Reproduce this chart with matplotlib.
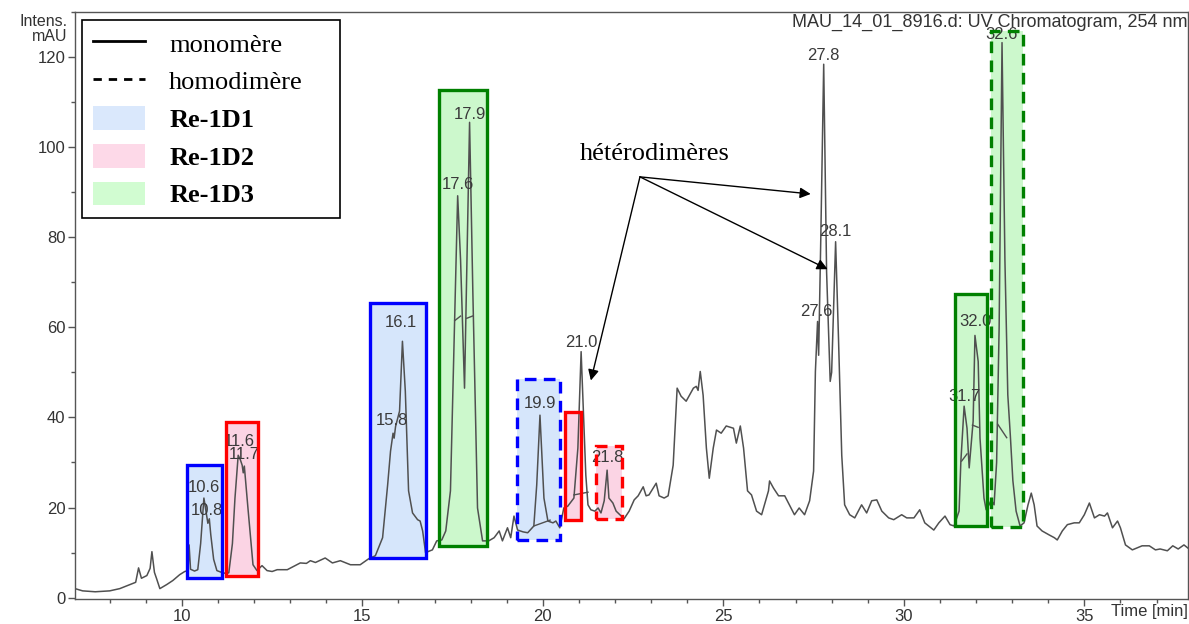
import numpy as np
import matplotlib.pyplot as plt
from matplotlib.patches import Rectangle, Patch
from matplotlib.lines import Line2D
from matplotlib.ticker import MultipleLocator

# --- UV trace (254 nm) ---
time_min = [7.04, 7.25, 7.6, 8.0, 8.28, 8.56, 8.72, 8.8, 8.88, 9.03, 9.12, 9.17, 9.24, 9.3, 9.39,
            9.58, 9.75, 9.94, 10.08, 10.17, 10.2, 10.24, 10.35, 10.44, 10.52, 10.61, 10.68, 10.72,
            10.76, 10.8, 10.88, 10.97, 11.1, 11.2, 11.3, 11.4, 11.47, 11.56, 11.62, 11.67, 11.7,
            11.73, 11.83, 11.97, 12.08, 12.22, 12.36, 12.5, 12.64, 12.92, 13.28, 13.45, 13.56, 13.7,
            13.97, 14.17, 14.39, 14.67, 14.94, 15.17, 15.36, 15.56, 15.7, 15.78, 15.85, 15.88, 15.92,
            16.03, 16.11, 16.19, 16.28, 16.39, 16.53, 16.6, 16.67, 16.75, 16.94, 17.06, 17.2, 17.31,
            17.44, 17.53, 17.64, 17.72, 17.83, 17.97, 18.06, 18.19, 18.33, 18.5, 18.65, 18.79, 18.88,
            19.02, 19.11, 19.2, 19.3, 19.45, 19.58, 19.75, 19.83, 19.92, 20.03, 20.14, 20.28, 20.36,
            20.47, 20.58, 20.69, 20.86, 20.97, 21.06, 21.11, 21.19, 21.25, 21.33, 21.44, 21.53, 21.61,
            21.7, 21.78, 21.83, 21.94, 22.03, 22.17, 22.25, 22.39, 22.53, 22.64, 22.78, 22.86, 22.94,
            23.14, 23.22, 23.36, 23.47, 23.61, 23.72, 23.83, 23.97, 24.17, 24.25, 24.3, 24.36, 24.44,
            24.53, 24.61, 24.72, 24.81, 24.94, 25.08, 25.28, 25.36, 25.47, 25.56, 25.67, 25.78, 25.92,
            26.06, 26.25, 26.28, 26.39, 26.53, 26.7, 26.83, 26.97, 27.1, 27.25, 27.39, 27.5, 27.55,
            27.61, 27.64, 27.7, 27.78, 27.86, 27.96, 28.0, 28.11, 28.19, 28.28, 28.36, 28.5, 28.64,
            28.83, 28.97, 29.11, 29.25, 29.39, 29.58, 29.72, 29.94, 30.08, 30.28, 30.44, 30.58, 30.83,
            30.97, 31.14, 31.28, 31.39, 31.53, 31.58, 31.67, 31.75, 31.81, 31.92, 31.97, 32.06, 32.11,
            32.22, 32.28, 32.36, 32.42, 32.5, 32.57, 32.64, 32.72, 32.8, 32.88, 32.95, 33.02, 33.11,
            33.22, 33.33, 33.44, 33.53, 33.61, 33.69, 33.83, 34.03, 34.17, 34.25, 34.39, 34.53, 34.72,
            34.86, 35.0, 35.14, 35.28, 35.42, 35.56, 35.64, 35.78, 35.92, 36.0, 36.14, 36.33, 36.6,
            36.8, 36.97, 37.1, 37.3, 37.45, 37.6, 37.76, 37.87]
intens_mau = [2.0, 1.5, 1.3, 1.5, 2.0, 2.9, 3.4, 6.6, 4.3, 4.9, 6.5, 10.2, 5.6, 4.2, 2.0,
              2.9, 3.8, 5.1, 5.8, 6.0, 11.7, 6.3, 5.9, 6.2, 12.0, 22.1, 18.5, 16.5,
              17.5, 14.0, 8.5, 6.0, 5.6, 5.4, 5.5, 12.0, 22.0, 31.6, 30.6, 29.4, 27.7,
              29.2, 19.9, 7.3, 6.0, 7.1, 6.0, 5.8, 6.2, 6.2, 7.7, 7.6, 8.2, 7.8,
              8.8, 7.7, 8.2, 7.3, 7.3, 8.6, 9.3, 13.3, 25.0, 32.5, 36.5, 35.4, 38.0,
              41.4, 56.9, 45.8, 23.7, 18.8, 17.3, 17.0, 14.8, 10.0, 10.6, 12.6, 12.8, 14.8,
              23.7, 53.0, 89.2, 75.0, 46.5, 105.5, 68.0, 19.9, 12.6, 12.6, 13.3, 14.8, 12.6,
              15.5, 13.3, 18.1, 15.0, 14.6, 14.4, 15.9, 25.0, 40.5, 22.1, 17.0, 16.6, 17.0,
              15.5, 19.9, 20.3, 22.1, 33.2, 54.6, 44.2, 27.2, 20.6, 19.5, 19.2, 19.9, 18.8,
              21.5, 28.3, 22.1, 21.0, 19.2, 18.1, 17.5, 19.2, 21.7, 22.6, 24.6, 22.6, 22.8,
              25.4, 22.6, 22.1, 22.6, 29.4, 46.5, 44.7, 43.6, 46.5, 46.9, 46.0, 50.2, 44.9,
              33.2, 26.5, 33.2, 37.2, 36.5, 38.1, 37.6, 34.3, 38.1, 33.2, 23.7, 22.8, 19.2,
              18.4, 23.7, 25.9, 24.3, 22.6, 22.6, 20.6, 18.4, 19.9, 18.4, 21.5, 28.1, 50.2,
              61.3, 53.8, 80.0, 118.4, 72.3, 48.0, 50.0, 79.0, 57.5, 31.6, 20.6, 18.4, 17.7,
              20.6, 18.8, 21.5, 21.7, 19.2, 17.7, 17.3, 18.4, 17.7, 17.7, 19.5, 16.6, 15.0,
              16.6, 18.1, 16.2, 15.9, 19.2, 30.3, 42.5, 37.6, 28.8, 39.2, 58.2, 52.4, 35.4,
              22.1, 19.5, 20.6, 21.7, 20.6, 30.0, 60.0, 123.2, 75.0, 45.0, 36.0, 26.0, 19.2,
              15.9, 16.6, 20.6, 23.2, 20.6, 15.9, 14.8, 13.9, 13.3, 12.8, 14.8, 16.2, 16.6,
              16.6, 18.4, 21.0, 17.7, 18.4, 18.1, 18.8, 15.5, 17.0, 15.5, 11.7, 10.6, 11.5,
              11.5, 10.6, 10.8, 10.4, 11.5, 10.8, 11.7, 11.0]

# small baseline segments drawn by the integration software
seg_t0 = [17.56, 17.89, 19.75, 20.86, 31.60, 31.90, 32.60]
seg_i0 = [61.5, 62.0, 15.9, 22.8, 30.3, 38.3, 38.5]
seg_t1 = [17.72, 18.05, 20.20, 21.25, 31.75, 32.06, 32.85]
seg_i1 = [62.5, 62.5, 17.2, 23.4, 31.9, 37.8, 35.5]

# peak labels (retention times)
peak_text = ['10.6', '10.8', '11.6', '11.7', '15.8', '16.1', '17.6', '17.9', '19.9', '21.0',
             '21.8', '27.8', '27.6', '28.1', '31.7', '32.0', '32.6']
peak_t = [10.62, 10.7, 11.58, 11.72, 15.82, 16.06, 17.64, 17.99, 19.92, 21.06,
          21.78, 27.78, 27.58, 28.11, 31.69, 31.99, 32.7]
peak_i = [24.5, 19.3, 34.6, 31.8, 39.3, 61.0, 91.8, 107.3, 43.1, 56.6,
          31.0, 120.4, 63.5, 81.2, 44.7, 61.3, 125.0]

# fraction boxes
box_t0 = [10.14, 11.22, 15.21, 17.12, 19.28, 20.61, 21.47, 31.41, 32.41]
box_t1 = [11.11, 12.11, 16.76, 18.45, 20.47, 21.05, 22.19, 32.30, 33.30]
box_lo = [4.4, 4.9, 8.9, 11.5, 12.8, 17.3, 17.5, 15.9, 15.7]
box_hi = [29.4, 38.9, 65.3, 112.6, 48.5, 41.2, 33.6, 67.3, 125.7]
box_sample = ['Re-1D1', 'Re-1D2', 'Re-1D1', 'Re-1D3', 'Re-1D1', 'Re-1D2', 'Re-1D2', 'Re-1D3', 'Re-1D3']
box_dimer = ['mono', 'mono', 'mono', 'mono', 'homo', 'mono', 'homo', 'mono', 'homo']

sample_edge = {'Re-1D1': '#0000ff', 'Re-1D2': '#ff0000', 'Re-1D3': '#008000'}
sample_fill = {'Re-1D1': '#d6e6fb', 'Re-1D2': '#fbd4e4', 'Re-1D3': '#ccf8cc'}

sans = ['Liberation Sans', 'DejaVu Sans']
serif = ['Liberation Serif', 'DejaVu Serif']

fig = plt.figure(figsize=(11.89, 6.24), dpi=100)
ax = fig.add_axes([0.0631, 0.0401, 0.936, 0.9407])

for t0, t1, lo, hi, s, d in zip(box_t0, box_t1, box_lo, box_hi, box_sample, box_dimer):
    ls = (0, (3.5, 2.2)) if d == 'homo' else 'solid'
    ax.add_patch(Rectangle((t0, lo), t1 - t0, hi - lo, facecolor=sample_fill[s],
                           edgecolor='none', zorder=1))
    ax.add_patch(Rectangle((t0, lo), t1 - t0, hi - lo, facecolor='none',
                           edgecolor=sample_edge[s], lw=2.4, linestyle=ls, zorder=4))

ax.plot(time_min, intens_mau, color='#505050', lw=1.1, zorder=2)
for a, b, c, e in zip(seg_t0, seg_i0, seg_t1, seg_i1):
    ax.plot([a, c], [b, e], color='#505050', lw=1.0, zorder=2)

for txt, t, i in zip(peak_text, peak_t, peak_i):
    ax.text(t, i, txt, ha='center', va='center', fontsize=12, color='#3a3a3a',
            family=sans, zorder=3)

# arrows to the heterodimer peaks
ax.text(23.1, 98.5, 'hétérodimères', ha='center', va='center', fontsize=19, family=serif)
for tip in [(21.33, 48.2), (27.42, 89.6), (27.89, 72.9)]:
    ax.annotate('', xy=tip, xytext=(22.69, 93.4),
                arrowprops=dict(arrowstyle='-|>', color='black', lw=1.0,
                                mutation_scale=16, shrinkA=0, shrinkB=0))

ax.set_xlim(7.04, 37.87)
ax.set_ylim(-0.3, 130)
ax.xaxis.set_major_locator(MultipleLocator(5))
ax.xaxis.set_minor_locator(MultipleLocator(1))
ax.yaxis.set_major_locator(MultipleLocator(20))
ax.yaxis.set_minor_locator(MultipleLocator(10))
ax.tick_params(which='major', length=5, width=1, color='#555555', labelsize=12,
               labelcolor='#333333', pad=2)
ax.tick_params(which='minor', length=3, width=1, color='#555555')
for lab in ax.get_xticklabels() + ax.get_yticklabels():
    lab.set_family(sans)
for sp in ax.spines.values():
    sp.set_color('#555555')
    sp.set_linewidth(1.0)

ax.text(1.0, 0.997, 'MAU_14_01_8916.d: UV Chromatogram, 254 nm', transform=ax.transAxes,
        ha='right', va='top', fontsize=13, color='#333333', family=sans)
ax.text(-0.007, 0.997, 'Intens.\nmAU', transform=ax.transAxes, ha='right', va='top',
        fontsize=11.5, color='#333333', family=sans, linespacing=1.0)
ax.text(1.0, -0.008, 'Time [min]', transform=ax.transAxes, ha='right', va='top',
        fontsize=12, color='#333333', family=sans)

handles = [Line2D([], [], color='black', lw=2),
           Line2D([], [], color='black', lw=2, linestyle=(0, (3, 2.5))),
           Patch(facecolor='#dae8fc', edgecolor='none'),
           Patch(facecolor='#fdd9e8', edgecolor='none'),
           Patch(facecolor='#d1fcd1', edgecolor='none')]
labels = ['monomère', 'homodimère', 'Re-1D1', 'Re-1D2', 'Re-1D3']
leg = ax.legend(handles, labels, loc='upper left', bbox_to_anchor=(0.0063, 0.629, 0.232, 0.357),
                mode='expand', prop={'family': serif, 'size': 19}, fancybox=False,
                edgecolor='black', framealpha=1, handlelength=2.0, handleheight=1.0,
                labelspacing=0.45, borderpad=0.4, handletextpad=0.9, borderaxespad=0)
leg.get_frame().set_linewidth(1.2)
for t in leg.get_texts()[2:]:
    t.set_fontweight('bold')

fig.savefig('out.png', dpi=100)
